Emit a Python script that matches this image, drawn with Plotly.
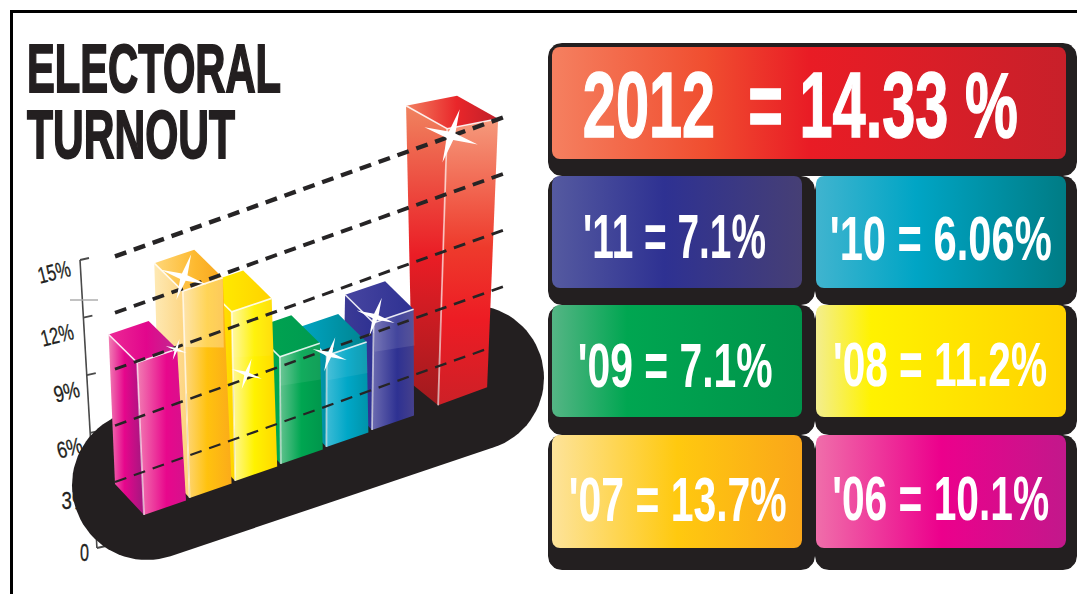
import json
import math
import plotly.graph_objects as go

# Turnout figures, oldest first
YEARS = ["'06", "'07", "'08", "'09", "'10", "'11", "2012"]
TURNOUT = [10.1, 13.7, 11.2, 7.1, 6.06, 7.1, 14.33]
AXIS_TICKS = [15, 12, 9, 6, 3, 0]
TITLE_LINES = ["ELECTORAL", "TURNOUT"]

SANS = "Liberation Sans, Arial, sans-serif"
INK = "#231f20"

fig = go.Figure()
text_fit = {}


def polygon(xs, ys, colors=None, direction="horizontal", solid=None):
    """Closed filled polygon, optionally shaded with a linear gradient."""
    xs, ys = list(xs) + [xs[0]], list(ys) + [ys[0]]
    kw = dict(fillcolor=solid) if solid else dict(
        fillgradient=dict(type=direction, colorscale=colors))
    fig.add_trace(go.Scatter(x=xs, y=ys, mode="lines", fill="toself",
                             line=dict(width=0), hoverinfo="skip", **kw))


def stroke(xs, ys, color, width, dash=None):
    fig.add_trace(go.Scatter(x=xs, y=ys, mode="lines", hoverinfo="skip",
                             line=dict(color=color, width=width, dash=dash)))


def rounded_rect(x0, y0, x1, y1, r):
    xs, ys = [], []
    corners = [(x1 - r, y0 + r, -90), (x1 - r, y1 - r, 0),
               (x0 + r, y1 - r, 90), (x0 + r, y0 + r, 180)]
    for cx, cy, start in corners:
        for k in range(9):
            a = math.radians(start + k * 90 / 8)
            xs.append(cx + r * math.cos(a))
            ys.append(cy + r * math.sin(a))
    return xs, ys


def stadium(c0, c1, r0, r1):
    """Outline of a slanted capsule joining two circles."""
    ang = math.atan2(c1[1] - c0[1], c1[0] - c0[0])
    xs, ys = [], []
    for k in range(41):
        a = ang - math.pi / 2 + k * math.pi / 40
        xs.append(c1[0] + r1 * math.cos(a))
        ys.append(c1[1] + r1 * math.sin(a))
    for k in range(41):
        a = ang + math.pi / 2 + k * math.pi / 40
        xs.append(c0[0] + r0 * math.cos(a))
        ys.append(c0[1] + r0 * math.sin(a))
    return xs, ys


def sparkle(cx, cy, r, turn=18):
    """Thin four-pointed glint."""
    xs, ys = [], []
    for k in range(8):
        rad = r if k % 2 == 0 else r * 0.17
        a = math.radians(turn + k * 45)
        xs.append(cx + rad * math.cos(a))
        ys.append(cy + rad * math.sin(a))
    return xs, ys


def label(text, x, y, size, width=None, bold=True, color="white", angle=0, heavy=0):
    shown = f"<b>{text}</b>" if bold else text
    fig.add_annotation(x=x, y=y, text=shown, showarrow=False, textangle=angle,
                       xanchor="center", yanchor="middle",
                       font=dict(family=SANS, size=size, color=color))
    if width:
        text_fit[text] = [width, heavy]


# ---- frame ----
stroke([11.5, 11.5, 1077], [594, 11.5, 11.5], "#000000", 3)

# ---- vertical percentage axis, partly hidden by the black plinth ----
def axis_point(p):
    return 80 + (15 - p) * 1.13, 260 + (15 - p) * 19.2


stroke([axis_point(15)[0], axis_point(0)[0]], [axis_point(15)[1], axis_point(0)[1]], "#4a4a4a", 1.6)
stroke([70, 98], [300, 300], "#a8a8a8", 1.4)
for p in AXIS_TICKS:
    ax, ay = axis_point(p)
    stroke([ax, ax + 9], [ay, ay - 2], "#4a4a4a", 1.8)

# the 3% label sits behind the plinth, so it is a trace rather than an annotation
three = f"{AXIS_TICKS[4]}%"
fig.add_trace(go.Scatter(x=[75], y=[503], mode="text", text=[three],
                         textposition="middle center", hoverinfo="skip",
                         textfont=dict(family=SANS, size=23, color=INK)))
text_fit[three] = [27, 0.3]

# ---- plinth ----
px, py = stadium((147, 485), (471, 378), 75, 73)
polygon(px, py, solid=INK)

# ---- bars ----
PER_POINT = 15.1       # pixels per percentage point
HEADLINE_PER_POINT = 19.3
SLOTS = [0, 1, 2, 3, 4, 5, 6.45]

FACE_STYLES = [
    dict(left=[[0, "#f07fb4"], [0.45, "#e6068c"], [1, "#a0187f"]],
         right=[[0, "#f27db3"], [0.6, "#e8078c"], [1, "#d5128c"]],
         top=[[0, "#ec2a96"], [0.55, "#e2068c"], [1, "#c02a90"]],
         star=(39, -13, 11), sheen=0),
    dict(left=[[0, "#fee9b4"], [1, "#fdd27a"]],
         right=[[0, "#fed98a"], [0.5, "#ffc20e"], [1, "#fbab1a"]],
         top=[[0, "#fed77a"], [0.6, "#fdb92f"], [1, "#f7a51d"]],
         star=(1, -14, 24), sheen=0.3),
    dict(left=[[0, "#fff200"], [1, "#ffd400"]],
         right=[[0, "#fff8a0"], [0.5, "#fff200"], [1, "#ffd800"]],
         top=[[0, "#fff200"], [1, "#ffd200"]],
         star=(15, 62, 16), sheen=0.05),
    dict(left=[[0, "#00a651"], [1, "#00a651"]],
         right=[[0, "#62c28f"], [0.5, "#00a651"], [1, "#00964c"]],
         top=[[0, "#00a651"], [1, "#009a50"]],
         star=None, sheen=0.07),
    dict(left=[[0, "#00a0c0"], [1, "#0091a5"]],
         right=[[0, "#3dbbd6"], [0.5, "#00a7c7"], [1, "#0093a9"]],
         top=[[0, "#00a6c4"], [1, "#00838f"]],
         star=(3, -1, 18), sheen=0.07),
    dict(left=[[0, "#3d3b96"], [1, "#2e3192"]],
         right=[[0, "#6c6bb0"], [0.6, "#2e3192"], [1, "#45408c"]],
         top=[[0, "#4745a0"], [1, "#2e3192"]],
         star=(2, -6, 20), sheen=0.1),
    # this bar shades top to bottom; gradient stops run from the floor upward
    dict(left=[[0, "#a01a1e"], [0.5, "#ea1d25"], [1, "#f0835f"]],
         right=[[0, "#cd2027"], [0.3, "#ed1c24"], [0.55, "#ee3a2c"], [1, "#f59a7c"]],
         top=[[0, "#f28060"], [0.55, "#e9262a"], [1, "#c0202a"]],
         star=(4, 7, 28), sheen=0),
]

stars = []
for i in reversed(range(len(TURNOUT))):
    s = SLOTS[i]
    headline = i == len(TURNOUT) - 1
    height = TURNOUT[i] * (HEADLINE_PER_POINT if headline else PER_POINT)
    fx, fy = 144 + 45.6 * s, 515 - 17 * s
    tx, ty = fx + (-0.045 + 0.012 * s) * height, fy - height
    if headline:
        top_r, top_l, low_r, low_l = (51, -10), (-41, -23), (49, -18), (-26, -21)
    else:
        top_r, top_l, low_r, low_l = (40, -13.5), (-28.5, -28), (42, -14.5), (-29, -31)
    st = FACE_STYLES[i]
    direction = "vertical" if headline else "horizontal"

    # left face, right face, top diamond
    polygon([tx + top_l[0], tx, fx, fx + low_l[0]],
            [ty + top_l[1], ty, fy, fy + low_l[1]], st["left"], direction)
    polygon([tx, tx + top_r[0], fx + low_r[0], fx],
            [ty, ty + top_r[1], fy + low_r[1], fy], st["right"], direction)
    polygon([tx, tx + top_r[0], tx + top_r[0] + top_l[0], tx + top_l[0]],
            [ty, ty + top_r[1], ty + top_r[1] + top_l[1], ty + top_l[1]], st["top"])

    # pale sheen across the upper part of the right face
    if st["sheen"]:
        d = height * 0.27
        polygon([tx, tx + top_r[0], tx + top_r[0] + 1, tx + 1],
                [ty, ty + top_r[1], ty + top_r[1] + d * 1.25, ty + d],
                solid=f"rgba(255,255,255,{st['sheen']})")

    # white edges catching the light
    stroke([tx + top_l[0], tx, tx + top_r[0]],
           [ty + top_l[1], ty, ty + top_r[1]], "rgba(255,255,255,0.85)", 1.6)
    stroke([tx, fx], [ty, fy], "rgba(255,255,255,0.6)", 1.8)

    if st["star"]:
        stars.append((tx + st["star"][0], ty + st["star"][1], st["star"][2]))

# ---- dashed guide lines, thinning towards the floor ----
GUIDE_WIDTHS = {15: 4.4, 12: 3.8, 9: 3.0, 6: 2.6, 3: 2.2}


def guide_y(p, x):
    return 482 + (3 - p) * 18.8 - 0.358 * (x - 115)


for p, w in GUIDE_WIDTHS.items():
    end = 487 if p == 3 else 508
    stroke([115, end], [guide_y(p, 115), guide_y(p, end)], "#262425", w, dash="12px,8px")

# ---- sparkles on the bar tops ----
for sx, sy, sr in stars:
    polygon(*sparkle(sx, sy, sr), solid="white")

# ---- value panels ----
PANEL_GRADIENTS = [
    [[0, "#f06eaa"], [0.5, "#ec008c"], [1, "#c2188b"]],
    [[0, "#fde39a"], [0.5, "#ffc90f"], [1, "#faa61a"]],
    [[0, "#f3ee8f"], [0.22, "#fff200"], [1, "#ffd200"]],
    [[0, "#55b585"], [0.3, "#00a651"], [1, "#00934a"]],
    [[0, "#40b4cf"], [0.4, "#00a5c5"], [1, "#007c85"]],
    [[0, "#555aa0"], [0.45, "#2e3192"], [1, "#463f75"]],
    [[0, "#f58060"], [0.3, "#f04e30"], [0.5, "#e91c25"], [1, "#c8202a"]],
]
# colour box, backing box, text centre and fitted text width for each year
PANEL_BOXES = [
    ((816, 435, 1066, 548), (815, 435, 1077, 570), (941, 498, 217)),
    ((552, 435, 802, 548), (548, 435, 815, 570), (678, 499, 218)),
    ((816, 305, 1066, 417), (815, 305, 1077, 435), (940, 364, 214)),
    ((552, 305, 802, 417), (548, 305, 815, 435), (675, 365, 195)),
    ((816, 176, 1066, 288), (815, 176, 1077, 305), (941, 238, 222)),
    ((552, 176, 802, 288), (548, 176, 815, 305), (674, 236, 183)),
    ((552, 47, 1066, 159), (548, 43, 1077, 176), (800, 105, 435)),
]

for box, back, _ in PANEL_BOXES:
    polygon(*rounded_rect(*back, 14), solid=INK)
for (box, back, _), grad in zip(PANEL_BOXES, PANEL_GRADIENTS):
    polygon(*rounded_rect(*box, 8), grad)

for yr, val, (_, _, (cx, cy, w)) in zip(YEARS, TURNOUT, PANEL_BOXES):
    if yr == "2012":
        label(f"{yr}\u00a0 = {val}\u00a0%", cx, cy, 92, w, heavy=1.5)
    else:
        label(f"{yr} = {val}%", cx, cy, 63, w)

# ---- heading: one two-line text, its lines set tight after drawing ----
fig.add_annotation(x=153, y=100, text="<br>".join(TITLE_LINES), showarrow=False,
                   xanchor="center", yanchor="middle", align="left",
                   font=dict(family=SANS, size=69, color=INK, weight="bold"))
TITLE_FIT = dict(text="".join(TITLE_LINES), left=27, baselines=[92, 158], widths=[254, 208], heavy=2)

# ---- axis labels ----
AXIS_LABEL_POS = {15: (54, 272, 33), 12: (57, 335, 33), 9: (66, 392, 26), 6: (69, 448, 26), 0: (84, 553, 9)}
for p, (lx, ly, lw) in AXIS_LABEL_POS.items():
    label(f"{p}%" if p else "0", lx, ly, 23, lw, bold=False, color=INK,
          angle=-14 if p else 0, heavy=0.3)

fig.update_layout(
    width=1077, height=594, margin=dict(l=0, r=0, t=0, b=0),
    paper_bgcolor="white", plot_bgcolor="white", showlegend=False,
    xaxis=dict(range=[0, 1077], visible=False, fixedrange=True),
    yaxis=dict(range=[594, 0], visible=False, fixedrange=True),
)

# The display face is far more condensed than any installed font, so the
# real text elements are narrowed about their centres after drawing.
narrow_text = """
var fit = %s;
var head = %s;
document.querySelectorAll('.annotation-text, .textpoint text').forEach(function (el) {
    if (el.textContent === head.text) {
        var ctm = el.getCTM();
        el.style.textAnchor = 'start';
        el.style.stroke = el.style.fill;
        el.style.strokeWidth = head.heavy + 'px';
        el.querySelectorAll('tspan.line').forEach(function (line, n) {
            line.removeAttribute('dy');
            line.setAttribute('x', head.left - ctm.e);
            line.setAttribute('y', head.baselines[n] - ctm.f);
            line.setAttribute('textLength', head.widths[n]);
            line.setAttribute('lengthAdjust', 'spacingAndGlyphs');
        });
        return;
    }
    var spec = fit[el.textContent];
    if (!spec) { return; }
    var box = el.getBBox();
    var cx = box.x + box.width / 2;
    el.setAttribute('transform', 'translate(' + cx + ' 0) scale(' + (spec[0] / box.width) + ' 1) translate(' + (-cx) + ' 0)');
    if (spec[1]) {
        el.style.stroke = el.style.fill;
        el.style.strokeWidth = spec[1] + 'px';
    }
});
""" % (json.dumps(text_fit), json.dumps(TITLE_FIT))

fig.write_html("out.html", post_script=narrow_text, config=dict(displayModeBar=False))
